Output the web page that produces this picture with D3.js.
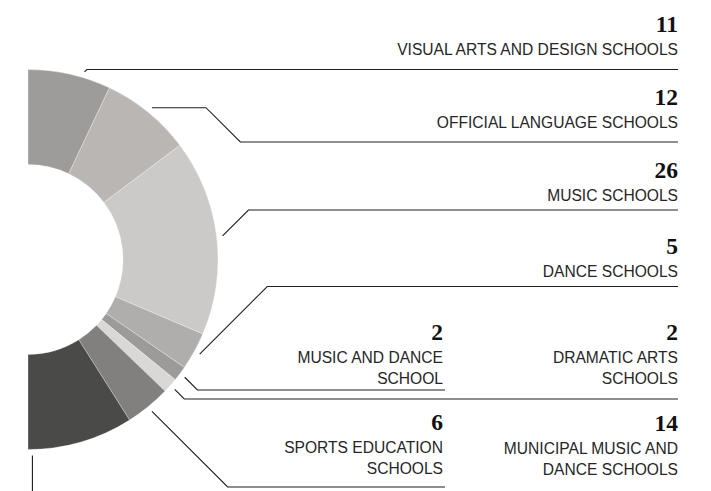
<!DOCTYPE html>
<meta charset="utf-8">
<script src="https://d3js.org/d3.v7.min.js"></script>
<style>
  body { margin: 0; background: #fff; }
</style>
<svg id="chart" width="711" height="491"></svg>
<script>

// Data
var categories = ["VISUAL ARTS AND DESIGN SCHOOLS", "OFFICIAL LANGUAGE SCHOOLS", "MUSIC SCHOOLS", "DANCE SCHOOLS",
                  "MUSIC AND DANCE SCHOOL", "DRAMATIC ARTS SCHOOLS", "SPORTS EDUCATION SCHOOLS", "MUNICIPAL MUSIC AND DANCE SCHOOLS"];
var values = [11, 12, 26, 5, 2, 2, 6, 14];
var labelLines = [
  ["VISUAL ARTS AND DESIGN SCHOOLS"],
  ["OFFICIAL LANGUAGE SCHOOLS"],
  ["MUSIC SCHOOLS"],
  ["DANCE SCHOOLS"],
  ["MUSIC AND DANCE", "SCHOOL"],
  ["DRAMATIC ARTS", "SCHOOLS"],
  ["SPORTS EDUCATION", "SCHOOLS"],
  ["MUNICIPAL MUSIC AND", "DANCE SCHOOLS"]
];
var colors = ["#9d9c9a", "#b9b6b4", "#cbcac8", "#b0aeac", "#9d9b99", "#d9d8d7", "#81807f", "#4a4a48"];

// Layout of the labels (right edge x, first label baseline, leader line y)
var layout = [
  {textX: 678, labelY: 55,  lineY: 69.5, lineEnd: 678, frac: 0.66},
  {textX: 678, labelY: 128, lineY: 142,  lineEnd: 678, elbowX: 206},
  {textX: 678, labelY: 201, lineY: 210,  lineEnd: 678},
  {textX: 678, labelY: 277, lineY: 286.5, lineEnd: 678},
  {textX: 443, labelY: 363, lineY: 390,  lineEnd: 445},
  {textX: 678, labelY: 363, lineY: 399,  lineEnd: 678},
  {textX: 443, labelY: 453, lineY: 487,  lineEnd: 445},
  {textX: 678, labelY: 454, down: true, frac: 0.96}
];

var svg = d3.select("#chart");
var cx = 28, cy = 259.5, rIn = 95, rOut = 190, rLead = 196;

var pie = d3.pie().sort(null).startAngle(0).endAngle(Math.PI);
var arc = d3.arc().innerRadius(rIn).outerRadius(rOut);
var arcs = pie(values);

var g = svg.append("g").attr("transform", "translate(" + cx + "," + cy + ")");
g.selectAll("path")
  .data(arcs)
  .enter()
  .append("path")
    .attr("d", arc)
    .attr("fill", function(d, i){ return colors[i] })
    .attr("stroke", "#ffffff")
    .attr("stroke-opacity", 0.5)
    .attr("stroke-width", 0.6);

// Leader lines
function leader(d, i) {
  var L = layout[i];
  var f = L.frac == null ? 0.5 : L.frac;
  var a = d.startAngle + f * (d.endAngle - d.startAngle);
  var x0 = cx + rLead * Math.sin(a), y0 = cy - rLead * Math.cos(a);
  var p = d3.path();
  p.moveTo(x0, y0);
  if (L.down) {
    p.lineTo(x0, 560);
    return p.toString();
  }
  var ex = x0;
  if (L.elbowX != null) { ex = L.elbowX; p.lineTo(ex, y0); }
  var dy = Math.abs(L.lineY - y0);
  p.lineTo(ex + dy, L.lineY);
  p.lineTo(L.lineEnd, L.lineY);
  return p.toString();
}

svg.append("g")
  .selectAll("path")
  .data(arcs)
  .enter()
  .append("path")
    .attr("d", leader)
    .attr("fill", "none")
    .attr("stroke", "#1e1e1e")
    .attr("stroke-width", 1.1);

// Labels
var labels = svg.append("g")
  .selectAll("g")
  .data(arcs)
  .enter()
  .append("g");

labels.append("text")
  .attr("x", function(d, i){ return layout[i].textX })
  .attr("y", function(d, i){ return layout[i].labelY - 23 })
  .attr("text-anchor", "end")
  .style("font-family", "'Liberation Serif', serif")
  .style("font-weight", "bold")
  .style("font-size", "23.5px")
  .style("fill", "#111")
  .text(function(d){ return d.data });

labels.each(function(d, i){
  var sel = d3.select(this);
  labelLines[i].forEach(function(line, j){
    sel.append("text")
      .attr("x", layout[i].textX)
      .attr("y", layout[i].labelY + j * 21)
      .attr("text-anchor", "end")
      .style("font-family", "'Liberation Sans', Arial, sans-serif")
      .style("font-size", "15.6px")
      .style("fill", "#262626")
      .text(line);
  });
});

</script>
